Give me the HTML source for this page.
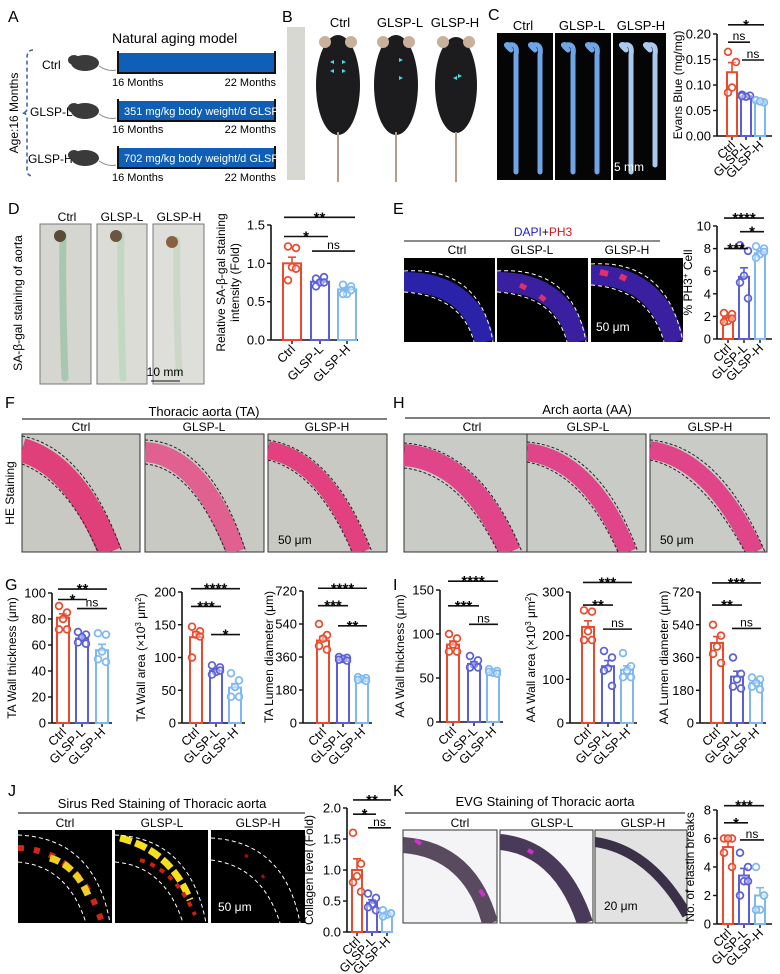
<!DOCTYPE html>
<html><head><meta charset="utf-8"><style>
html,body{margin:0;padding:0;background:#fff}
svg{display:block;font-family:"Liberation Sans",Arial,sans-serif}
</style></head><body>
<svg id="fig" width="780" height="974" viewBox="0 0 780 974" xmlns="http://www.w3.org/2000/svg">
<defs>
<clipPath id="cF1"><rect x="22" y="434" width="118" height="118"/></clipPath>
<clipPath id="cF2"><rect x="145" y="434" width="119" height="118"/></clipPath>
<clipPath id="cF3"><rect x="268" y="434" width="119" height="118"/></clipPath>
<clipPath id="cH1"><rect x="404" y="434" width="123" height="118"/></clipPath>
<clipPath id="cH2"><rect x="527" y="434" width="119" height="118"/></clipPath>
<clipPath id="cH3"><rect x="650" y="434" width="117" height="118"/></clipPath>
<clipPath id="cE1"><rect x="404" y="258" width="91" height="84"/></clipPath>
<clipPath id="cE2"><rect x="497" y="258" width="91" height="84"/></clipPath>
<clipPath id="cE3"><rect x="591" y="258" width="92" height="84"/></clipPath>
<clipPath id="cJ1"><rect x="18" y="830" width="94" height="93"/></clipPath>
<clipPath id="cJ2"><rect x="115" y="830" width="93" height="93"/></clipPath>
<clipPath id="cJ3"><rect x="211" y="830" width="94" height="93"/></clipPath>
<clipPath id="cK1"><rect x="403" y="830" width="94" height="93"/></clipPath>
<clipPath id="cK2"><rect x="500" y="830" width="93" height="93"/></clipPath>
<clipPath id="cK3"><rect x="595" y="830" width="92" height="93"/></clipPath>
</defs>

<!-- Panel A -->
<g font-size="12">
<text x="8" y="22" font-size="16">A</text>
<text x="112" y="43" font-size="14">Natural aging model</text>
<path d="M33,50 Q27,50 27,58 L27,108 Q27,113 22,113 Q27,113 27,118 L27,170 Q27,176 33,176" fill="none" stroke="#3a5aa8" stroke-width="1.5" stroke-dasharray="4,3"/>
<text transform="translate(18,113) rotate(-90)" text-anchor="middle" font-size="12">Age:16 Months</text>
<text x="42" y="69">Ctrl</text>
<text x="30" y="116">GLSP-L</text>
<text x="28" y="163">GLSP-H</text>
<g fill="#3a3a3a">
<ellipse cx="85" cy="63" rx="14" ry="8"/><ellipse cx="74" cy="60" rx="6" ry="5"/><path d="M99,66 Q108,72 116,70" stroke="#888" fill="none"/>
<ellipse cx="85" cy="111" rx="14" ry="8"/><ellipse cx="74" cy="108" rx="6" ry="5"/><path d="M99,114 Q108,120 116,118" stroke="#888" fill="none"/>
<ellipse cx="85" cy="158" rx="14" ry="8"/><ellipse cx="74" cy="155" rx="6" ry="5"/><path d="M99,161 Q108,167 116,165" stroke="#888" fill="none"/>
</g>
<g>
<rect x="118" y="53" width="156" height="19" fill="#0e5fb5"/><path d="M118,51 V73 H275 V51" fill="none" stroke="#111" stroke-width="2"/>
</g>
<g>
<rect x="118" y="101" width="156" height="19" fill="#0e5fb5"/><path d="M118,99 V121 H275 V99" fill="none" stroke="#111" stroke-width="2"/>
<text x="124" y="115" fill="#fff" font-size="11">351 mg/kg body weight/d GLSP</text>
</g>
<g>
<rect x="118" y="148" width="156" height="19" fill="#0e5fb5"/><path d="M118,146 V168 H275 V146" fill="none" stroke="#111" stroke-width="2"/>
<text x="124" y="162" fill="#fff" font-size="11">702 mg/kg body weight/d GLSP</text>
</g>
<g font-size="11">
<text x="112" y="86">16 Months</text><text x="276" y="86" text-anchor="end">22 Months</text>
<text x="112" y="133">16 Months</text><text x="276" y="133" text-anchor="end">22 Months</text>
<text x="112" y="181">16 Months</text><text x="276" y="181" text-anchor="end">22 Months</text>
</g>
</g>

<!-- Panel B -->
<g font-size="13">
<text x="282" y="22" font-size="16">B</text>
<rect x="287" y="27" width="18" height="153" fill="#d8d8d2"/>
<text x="340" y="27" text-anchor="middle">Ctrl</text>
<text x="400" y="27" text-anchor="middle">GLSP-L</text>
<text x="455" y="27" text-anchor="middle">GLSP-H</text>
<g>
<g><ellipse cx="338" cy="85" rx="22" ry="50" fill="#1c1c1e"/><circle cx="325" cy="42" r="6" fill="#c8b09a"/><circle cx="351" cy="42" r="6" fill="#c8b09a"/><path d="M338,132 V182" stroke="#b89c8a" stroke-width="2"/>
<path d="M330,62 l4,-2 v4z M346,62 l-4,-2 v4z M330,71 l4,-2 v4z M346,71 l-4,-2 v4z" fill="#3fe0e0"/></g>
<g><ellipse cx="396" cy="85" rx="22" ry="50" fill="#1c1c1e"/><circle cx="383" cy="42" r="6" fill="#c8b09a"/><circle cx="409" cy="42" r="6" fill="#c8b09a"/><path d="M396,132 V182" stroke="#b89c8a" stroke-width="2"/>
<path d="M403,60 l-4,-2 v4z M403,78 l-4,-2 v4z" fill="#3fe0e0"/></g>
<g><ellipse cx="456" cy="85" rx="21" ry="48" fill="#1c1c1e"/><circle cx="443" cy="42" r="6" fill="#c8b09a"/><circle cx="469" cy="42" r="6" fill="#c8b09a"/><path d="M456,132 V182" stroke="#b89c8a" stroke-width="2"/>
<path d="M453,78 l4,-2 v4z M462,76 l-4,-2 v4z" fill="#3fe0e0"/></g>
</g>
</g>

<!-- Panel C photos -->
<g font-size="13">
<text x="488" y="20" font-size="16">C</text>
<text x="523" y="30" text-anchor="middle">Ctrl</text>
<text x="582" y="30" text-anchor="middle">GLSP-L</text>
<text x="641" y="30" text-anchor="middle">GLSP-H</text>
<rect x="497" y="33" width="56" height="147" fill="#050505"/>
<rect x="555" y="33" width="56" height="147" fill="#050505"/>
<rect x="613" y="33" width="53" height="147" fill="#050505"/>
<g fill="none" stroke="#6ea5e6" stroke-width="5" stroke-linecap="round">
<path d="M511,50 Q503,43 509,45 Q518,43 516,55 V172"/><path d="M535,50 Q527,43 533,45 Q542,43 540,55 V172"/>
<path d="M568,50 Q560,43 566,45 Q575,43 573,55 V172"/><path d="M592,50 Q584,43 590,45 Q599,43 597,55 V172"/>
</g>
<g fill="none" stroke="#a9c9ef" stroke-width="5" stroke-linecap="round">
<path d="M626,50 Q618,43 624,45 Q633,43 631,55 V172"/><path d="M650,50 Q642,43 648,45 Q657,43 655,55 V165"/>
</g>
<text x="614" y="171" fill="#fff" font-size="12">5 mm</text>
</g>

<!-- Panel D photos -->
<g font-size="12">
<text x="8" y="214" font-size="16">D</text>
<text transform="translate(22,303) rotate(-90)" text-anchor="middle">SA-β-gal staining of aorta</text>
<text x="67" y="221" text-anchor="middle">Ctrl</text>
<text x="122" y="221" text-anchor="middle">GLSP-L</text>
<text x="179" y="221" text-anchor="middle">GLSP-H</text>
<rect x="40" y="224" width="51" height="160" fill="#d6d6d0" stroke="#777"/>
<rect x="97" y="224" width="50" height="160" fill="#dcdcd6" stroke="#777"/>
<rect x="153" y="224" width="51" height="160" fill="#dededa" stroke="#777"/>
<g fill="none" stroke-width="7" stroke-linecap="round">
<path d="M63,235 Q62,300 65,378" stroke="#a9c6b0"/><path d="M121,235 Q120,300 123,378" stroke="#c3d8c2"/><path d="M177,240 Q176,300 179,372" stroke="#cbd8c8"/>
</g>
<circle cx="60" cy="236" r="6" fill="#5b4a38"/><circle cx="116" cy="236" r="6" fill="#6a5540"/><circle cx="172" cy="242" r="6" fill="#8a6040"/>
<text x="165" y="376" text-anchor="middle">10 mm</text><path d="M151,381 H180" stroke="#111"/>
</g>

<!-- Panel E photos -->
<g font-size="12">
<text x="393" y="214" font-size="16">E</text>
<text x="543" y="236" text-anchor="middle" font-size="12"><tspan fill="#2020d0">DAPI</tspan><tspan fill="#111">+</tspan><tspan fill="#e01020">PH3</tspan></text>
<path d="M404,241 H660" stroke="#666" stroke-width="1.5"/>
<text x="457" y="254" text-anchor="middle">Ctrl</text>
<text x="532" y="254" text-anchor="middle">GLSP-L</text>
<text x="627" y="254" text-anchor="middle">GLSP-H</text>
<rect x="404" y="258" width="91" height="84" fill="#000"/>
<rect x="497" y="258" width="91" height="84" fill="#000"/>
<rect x="591" y="258" width="92" height="84" fill="#000"/>
<g clip-path="url(#cE1)"><path d="M404,282 Q470,282 485,342" fill="none" stroke="#2a22a8" stroke-width="20"/><path d="M404,271 Q480,266 493,342 M404,292 Q462,296 474,342" fill="none" stroke="#fff" stroke-dasharray="4,3"/></g>
<g clip-path="url(#cE2)"><path d="M497,282 Q563,282 578,342" fill="none" stroke="#3a1fa0" stroke-width="20"/><path d="M520,285 l6,3 M540,296 l5,4" stroke="#e0306a" stroke-width="5"/><path d="M497,271 Q573,266 586,342 M497,292 Q555,296 567,342" fill="none" stroke="#fff" stroke-dasharray="4,3"/></g>
<g clip-path="url(#cE3)"><path d="M591,275 Q657,275 675,342" fill="none" stroke="#3a1fa0" stroke-width="20"/><path d="M600,272 l8,2 M620,276 l6,3" stroke="#e0306a" stroke-width="6"/><path d="M591,264 Q667,259 683,342 M591,285 Q649,289 664,342" fill="none" stroke="#fff" stroke-dasharray="4,3"/>
<text x="596" y="331" fill="#fff" font-size="12">50 μm</text></g>
</g>

<!-- Panels F & H -->
<g font-size="12">
<text x="5" y="408" font-size="16">F</text>
<text x="204" y="416" text-anchor="middle" font-size="13">Thoracic aorta (TA)</text>
<path d="M22,419 H387" stroke="#555" stroke-width="1.5"/>
<text x="81" y="431" text-anchor="middle">Ctrl</text><text x="204" y="431" text-anchor="middle">GLSP-L</text><text x="327" y="431" text-anchor="middle">GLSP-H</text>
<text transform="translate(14,493) rotate(-90)" text-anchor="middle">HE Staining</text>
<rect x="22" y="434" width="118" height="118" fill="#c9c9c4" stroke="#333"/>
<rect x="145" y="434" width="119" height="118" fill="#c9c9c4" stroke="#333"/>
<rect x="268" y="434" width="119" height="118" fill="#c9c9c4" stroke="#333"/>
<g clip-path="url(#cF1)"><path d="M22,450 Q75,465 110,552" fill="none" stroke="#e0407a" stroke-width="24"/><path d="M22,436 Q85,448 122,552 M22,464 Q68,482 98,552" fill="none" stroke="#222" stroke-dasharray="3,2"/></g>
<g clip-path="url(#cF2)"><path d="M145,452 Q200,455 236,552" fill="none" stroke="#e06090" stroke-width="20"/><path d="M145,440 Q210,442 246,552 M145,464 Q192,468 226,552" fill="none" stroke="#222" stroke-dasharray="3,2"/></g>
<g clip-path="url(#cF3)"><path d="M268,450 Q325,460 362,552" fill="none" stroke="#e2407e" stroke-width="18"/><path d="M268,440 Q333,450 372,552 M268,460 Q318,472 352,552" fill="none" stroke="#222" stroke-dasharray="3,2"/>
<text x="278" y="544" font-size="12">50 μm</text></g>
</g>
<g font-size="12">
<text x="393" y="408" font-size="16">H</text>
<text x="587" y="414" text-anchor="middle" font-size="13">Arch aorta (AA)</text>
<path d="M405,418 H770" stroke="#555" stroke-width="1.5"/>
<text x="472" y="431" text-anchor="middle">Ctrl</text><text x="588" y="431" text-anchor="middle">GLSP-L</text><text x="710" y="431" text-anchor="middle">GLSP-H</text>
<rect x="404" y="434" width="123" height="118" fill="#c9cbc6" stroke="#333"/>
<rect x="527" y="434" width="119" height="118" fill="#c9cbc6" stroke="#333"/>
<rect x="650" y="434" width="117" height="118" fill="#c9cbc6" stroke="#333"/>
<g clip-path="url(#cH1)"><path d="M404,455 Q470,460 510,552" fill="none" stroke="#e0458a" stroke-width="22"/><path d="M404,443 Q480,448 522,552 M404,468 Q460,474 498,552" fill="none" stroke="#222" stroke-dasharray="3,2"/></g>
<g clip-path="url(#cH2)"><path d="M527,452 Q590,460 628,552" fill="none" stroke="#e0458a" stroke-width="18"/><path d="M527,442 Q600,448 638,552 M527,462 Q582,472 618,552" fill="none" stroke="#222" stroke-dasharray="3,2"/></g>
<g clip-path="url(#cH3)"><path d="M650,450 Q710,458 755,552" fill="none" stroke="#e0458a" stroke-width="18"/><path d="M650,440 Q720,446 765,552 M650,460 Q700,470 745,552" fill="none" stroke="#222" stroke-dasharray="3,2"/>
<text x="660" y="544" font-size="12">50 μm</text></g>
</g>
<text x="5" y="590" font-size="16">G</text>
<text x="393" y="590" font-size="16">I</text>

<!-- Panel J photos -->
<g font-size="12">
<text x="8" y="796" font-size="16">J</text>
<text x="162" y="808" text-anchor="middle" font-size="13">Sirus Red Staining of Thoracic aorta</text>
<path d="M18,813 H305" stroke="#555" stroke-width="1.5"/>
<text x="65" y="827" text-anchor="middle">Ctrl</text><text x="162" y="827" text-anchor="middle">GLSP-L</text><text x="258" y="827" text-anchor="middle">GLSP-H</text>
<rect x="18" y="830" width="94" height="93" fill="#000"/><rect x="115" y="830" width="93" height="93" fill="#000"/><rect x="211" y="830" width="94" height="93" fill="#000"/>
<g clip-path="url(#cJ1)"><path d="M18,848 Q80,850 102,923" fill="none" stroke="#d02818" stroke-width="6" stroke-dasharray="6,10"/><path d="M50,858 Q75,865 88,895" fill="none" stroke="#f0d020" stroke-width="7" stroke-dasharray="10,5"/><path d="M18,835 Q95,838 110,923 M18,862 Q68,866 86,923" fill="none" stroke="#fff" stroke-dasharray="4,3"/></g>
<g clip-path="url(#cJ2)"><path d="M120,838 Q170,850 190,900" fill="none" stroke="#f5e020" stroke-width="7" stroke-dasharray="12,4"/><path d="M140,860 Q175,870 195,915" fill="none" stroke="#d02010" stroke-width="4" stroke-dasharray="5,6"/><path d="M115,835 Q190,838 206,923 M115,862 Q165,866 183,923" fill="none" stroke="#fff" stroke-dasharray="4,3"/></g>
<g clip-path="url(#cJ3)"><path d="M211,838 Q285,842 300,923 M211,860 Q262,866 280,923" fill="none" stroke="#fff" stroke-dasharray="4,3"/><path d="M245,855 l3,2 M262,875 l2,3" stroke="#a01010" stroke-width="3"/>
<text x="218" y="911" fill="#fff" font-size="12">50 μm</text></g>
</g>

<!-- Panel K photos -->
<g font-size="12">
<text x="393" y="796" font-size="16">K</text>
<text x="545" y="806" text-anchor="middle" font-size="13">EVG Staining of Thoracic aorta</text>
<path d="M405,813 H685" stroke="#555" stroke-width="1.5"/>
<text x="460" y="827" text-anchor="middle">Ctrl</text><text x="552" y="827" text-anchor="middle">GLSP-L</text><text x="643" y="827" text-anchor="middle">GLSP-H</text>
<rect x="403" y="830" width="94" height="93" fill="#f4f3f5" stroke="#333"/><rect x="500" y="830" width="93" height="93" fill="#f6f5f7" stroke="#333"/><rect x="595" y="830" width="92" height="93" fill="#e3e2e2" stroke="#333"/>
<g clip-path="url(#cK1)"><path d="M403,845 Q470,850 490,923" fill="none" stroke="#5a4a60" stroke-width="16"/><path d="M415,840 l6,4 M480,890 l4,6" stroke="#d030d0" stroke-width="4"/></g>
<g clip-path="url(#cK2)"><path d="M500,842 Q560,848 585,923" fill="none" stroke="#4a3a5a" stroke-width="16"/><path d="M528,850 l5,3" stroke="#d030d0" stroke-width="4"/></g>
<g clip-path="url(#cK3)"><path d="M595,842 Q650,850 687,915" fill="none" stroke="#3a3048" stroke-width="10"/>
<text x="604" y="910" font-size="12">20 μm</text></g>
</g>

<g id="charts"></g>
</svg>
<script>
// ---- chart data ----
const categories = ['Ctrl','GLSP-L','GLSP-H'];

const cMeans = [0.125,0.078,0.068];
const cSem = [0.019,0.002,0.002];
const cPts = [[0.165,0.145,0.095,0.085],[0.081,0.079,0.077,0.078],[0.07,0.066,0.068]];
const cTicks = [0,0.05,0.10,0.15,0.20];
const cTickLabels = ['0.00','0.05','0.10','0.15','0.20'];
const cSig = [[0,2,0.218,'*'],[0,1,0.184,'ns'],[1,2,0.149,'ns']];

const dMeans = [1.0,0.76,0.66];
const dSem = [0.08,0.02,0.025];
const dPts = [[1.22,1.2,0.95,0.78,0.93],[0.8,0.82,0.75,0.7,0.75],[0.72,0.7,0.6,0.6,0.65]];
const dTicks = [0,0.5,1.0,1.5];
const dTickLabels = ['0.0','0.5','1.0','1.5'];
const dSig = [[0,2,1.6,'**'],[0,1,1.35,'*'],[1,2,1.16,'ns']];

const eMeans = [1.85,5.5,7.6];
const eSem = [0.2,0.8,0.2];
const ePts = [[2.3,2.2,1.6,1.5,1.8],[8.3,7.8,5.6,5.0,3.6],[8.2,8.0,7.5,7.2,7.7]];
const eTicks = [0,2,4,6,8,10];
const eTickLabels = ['0','2','4','6','8','10'];
const eSig = [[0,2,10.7,'****'],[1,2,9.5,'*'],[0,1,8.0,'***']];

const g1Means = [81,65,56];
const g1Sem = [3,2,4.5];
const g1Pts = [[90,85,80,72,72],[70,68,66,62,61],[69,68,55,49,47]];
const g1Ticks = [0,20,40,60,80,100];
const g1Sig = [[0,2,103,'**'],[0,1,95,'*'],[1,2,88,'ns']];

const g2Means = [131,80,54];
const g2Sem = [8,2.5,6];
const g2Pts = [[147,140,135,100,132],[88,85,78,74,80],[76,65,55,40,40]];
const g2Ticks = [0,50,100,150,200];
const g2Sig = [[0,2,205,'****'],[0,1,178,'***'],[1,2,135,'*']];

const g3Means = [450,350,240];
const g3Sem = [22,5,4];
const g3Pts = [[540,480,460,420,400],[360,355,350,345,340],[250,245,240,235,230]];
const g3Ticks = [0,180,360,540,720];
const g3Sig = [[0,2,735,'****'],[0,1,640,'***'],[1,2,530,'**']];

const i1Means = [88,66,58];
const i1Sem = [4,2.5,1];
const i1Pts = [[100,95,88,80,80],[75,70,65,62,62],[60,58,56,57,55]];
const i1Ticks = [0,50,100,150];
const i1Sig = [[0,2,160,'****'],[0,1,132,'***'],[1,2,111,'ns']];

const i2Means = [220,130,122];
const i2Sem = [14,13,9];
const i2Pts = [[258,255,210,190,190],[165,150,125,120,85],[160,130,120,105,105]];
const i2Ticks = [0,100,200,300];
const i2Sig = [[0,2,322,'***'],[0,1,270,'**'],[1,2,215,'ns']];

const i3Means = [440,255,220];
const i3Sem = [35,30,12];
const i3Pts = [[540,480,420,380,330],[360,270,240,200,190],[250,240,220,200,185]];
const i3Ticks = [0,180,360,540,720];
const i3Sig = [[0,2,770,'***'],[0,1,648,'**'],[1,2,520,'ns']];

const jMeans = [1.0,0.47,0.3];
const jSem = [0.18,0.05,0.02];
const jPts = [[1.6,1.1,0.9,0.8,0.65],[0.62,0.55,0.45,0.4,0.35],[0.35,0.3,0.28,0.25,0.3]];
const jTicks = [0,0.5,1.0,1.5,2.0];
const jTickLabels = ['0.0','0.5','1.0','1.5','2.0'];
const jSig = [[0,2,2.13,'**'],[0,1,1.9,'*'],[1,2,1.68,'ns']];

const kMeans = [5.4,3.4,2.0];
const kSem = [0.4,0.5,0.55];
const kPts = [[6,6,6,5,4],[5,4,3,2,3],[4,2,1,1,2]];
const kTicks = [0,2,4,6,8];
const kSig = [[0,2,8.3,'***'],[0,1,7.1,'*'],[1,2,5.9,'ns']];

// ---- drawing ----
const NS = 'http://www.w3.org/2000/svg';
const COLORS = ['#ea4a2c','#5a5fd8','#7db8f2'];
const JIT = [-4,4,0,-4,4];
const root = document.getElementById('charts');
function mk(tag, parent){ const el=document.createElementNS(NS,tag); parent.appendChild(el); return el; }

function barChart(name, L, means, sem, pts, ticks, tickLabels, sigs, title){
  const g = mk('g', root);
  
  
  const y = v => L.y0 - v / ticks[ticks.length-1] * (L.y0 - L.yTop);
  const ya = mk('path', g);
  ya.setAttribute('d', `M${L.ax},${L.y0} V${L.yTop}`);
  ya.setAttribute('stroke','#111'); ya.setAttribute('stroke-width','1.6'); ya.setAttribute('fill','none');
  
  
  const xa = mk('path', g);
  xa.setAttribute('d', `M${L.ax},${L.y0} H${L.xEnd}`);
  xa.setAttribute('stroke','#111'); xa.setAttribute('stroke-width','1.6');
  
  
  ticks.forEach((t,i)=>{
    const tk = mk('path', g);
    tk.setAttribute('d', `M${L.ax-4},${y(t)} H${L.ax}`);
    tk.setAttribute('stroke','#111'); tk.setAttribute('stroke-width','1.4');
    
    
    const tl = mk('text', g);
    tl.setAttribute('x', L.ax-6); tl.setAttribute('y', y(t)+4.5);
    tl.setAttribute('text-anchor','end'); tl.setAttribute('font-size','13');
    tl.textContent = tickLabels ? tickLabels[i] : String(t);
    
    
  });
  const tt = mk('text', g);
  tt.setAttribute('transform', `translate(${L.titleX},${(L.y0+L.yTop)/2}) rotate(-90)`);
  tt.setAttribute('text-anchor','middle'); tt.setAttribute('font-size', L.tfs || '12');
  
  
  title.forEach((line,li)=>{
    const ts = mk('tspan', tt);
    ts.setAttribute('x', 0); ts.setAttribute('dy', li===0 ? (-(title.length-1)*7) : 14);
    ts.innerHTML = line;
  });
  categories.forEach((c,i)=>{
    const cx = L.centers[i], col = COLORS[i];
    const xt = mk('path', g);
    xt.setAttribute('d', `M${cx},${L.y0} V${L.y0+4}`); xt.setAttribute('stroke','#111'); xt.setAttribute('stroke-width','1.4');
    
    
    const bar = mk('rect', g);
    bar.setAttribute('x', cx - L.bw/2); bar.setAttribute('y', y(means[i]));
    bar.setAttribute('width', L.bw); bar.setAttribute('height', L.y0 - y(means[i]));
    bar.setAttribute('fill','#fff'); bar.setAttribute('stroke', col); bar.setAttribute('stroke-width','2');
    
    
    const eb = mk('path', g);
    eb.setAttribute('d', `M${cx},${y(means[i])} V${y(means[i]+sem[i])} M${cx-4},${y(means[i]+sem[i])} H${cx+4}`);
    eb.setAttribute('stroke', col); eb.setAttribute('stroke-width','1.6'); eb.setAttribute('fill','none');
    
    
    pts[i].forEach((v,k)=>{
      const p = mk('circle', g);
      p.setAttribute('cx', cx + JIT[k % JIT.length]); p.setAttribute('cy', y(v)); p.setAttribute('r','3.4');
      p.setAttribute('fill','#fff'); p.setAttribute('fill-opacity','0.4'); p.setAttribute('stroke', col); p.setAttribute('stroke-width','1.7');
      
      
    });
    const cl = mk('text', g);
    cl.setAttribute('transform', `translate(${cx+4},${L.y0+10}) rotate(-45)`);
    cl.setAttribute('text-anchor','end'); cl.setAttribute('font-size','12.5');
    cl.textContent = c;
    
    
  });
  sigs.forEach(s=>{
    const x1 = L.centers[s[0]] - L.bw/2 + 1, x2 = L.centers[s[1]] + L.bw/2 - 1, yy = y(s[2]);
    const ln = mk('path', g);
    ln.setAttribute('d', `M${x1},${yy} H${x2}`); ln.setAttribute('stroke','#111'); ln.setAttribute('stroke-width','1.6');
    
    
    const st = mk('text', g);
    const isNs = s[3]==='ns';
    st.setAttribute('x', (x1+x2)/2); st.setAttribute('y', isNs ? yy-2 : yy+5);
    st.setAttribute('text-anchor','middle'); st.setAttribute('font-size', isNs ? '12' : '15');
    if(!isNs) st.setAttribute('font-weight','bold');
    st.textContent = s[3];
    
    
  });
}

barChart('evans-blue-chart', {ax:717,y0:136,yTop:34,centers:[732,746,760],bw:10,xEnd:772,titleX:682}, cMeans,cSem,cPts,cTicks,cTickLabels,cSig,['Evans Blue (mg/mg)']);
barChart('sa-beta-gal-chart', {ax:271,y0:340,yTop:225,centers:[292,320,347],bw:18,xEnd:358,titleX:232}, dMeans,dSem,dPts,dTicks,dTickLabels,dSig,['Relative SA-β-gal staining','intensity (Fold)']);
barChart('ph3-chart', {ax:717,y0:339,yTop:226,centers:[728,744,760],bw:10,xEnd:772,titleX:692}, eMeans,eSem,ePts,eTicks,eTickLabels,eSig,['% PH3<tspan baseline-shift="super" font-size="8">+</tspan> Cell']);
barChart('ta-wall-thickness-chart', {ax:52,y0:723,yTop:593,centers:[63,82,102],bw:12,xEnd:112,titleX:16}, g1Means,g1Sem,g1Pts,g1Ticks,null,g1Sig,['TA Wall thickness (μm)']);
barChart('ta-wall-area-chart', {ax:182,y0:723,yTop:592,centers:[196,216,235],bw:12,xEnd:245,titleX:145}, g2Means,g2Sem,g2Pts,g2Ticks,null,g2Sig,['TA Wall area (×10<tspan baseline-shift="super" font-size="8">3</tspan> μm<tspan baseline-shift="super" font-size="8">2</tspan>)']);
barChart('ta-lumen-diameter-chart', {ax:303,y0:723,yTop:591,centers:[323,343,362],bw:12,xEnd:372,titleX:273}, g3Means,g3Sem,g3Pts,g3Ticks,null,g3Sig,['TA Lumen diameter (μm)']);
barChart('aa-wall-thickness-chart', {ax:440,y0:722,yTop:590,centers:[453,474,493],bw:12,xEnd:503,titleX:404}, i1Means,i1Sem,i1Pts,i1Ticks,null,i1Sig,['AA Wall thickness (μm)']);
barChart('aa-wall-area-chart', {ax:570,y0:723,yTop:592,centers:[588,608,627],bw:12,xEnd:637,titleX:535}, i2Means,i2Sem,i2Pts,i2Ticks,null,i2Sig,['AA Wall area (×10<tspan baseline-shift="super" font-size="8">3</tspan> μm<tspan baseline-shift="super" font-size="8">2</tspan>)']);
barChart('aa-lumen-diameter-chart', {ax:700,y0:723,yTop:592,centers:[717,737,756],bw:12,xEnd:766,titleX:668}, i3Means,i3Sem,i3Pts,i3Ticks,null,i3Sig,['AA Lumen diameter (μm)']);
barChart('collagen-chart', {ax:347,y0:932,yTop:808,centers:[357,372,387],bw:10,xEnd:392,titleX:313}, jMeans,jSem,jPts,jTicks,jTickLabels,jSig,['Collagen level (Fold)']);
barChart('elastin-breaks-chart', {ax:717,y0:924,yTop:810,centers:[728,744,760],bw:10,xEnd:772,titleX:694}, kMeans,kSem,kPts,kTicks,null,kSig,['No. of elastin breaks']);
</script>
</body></html>
